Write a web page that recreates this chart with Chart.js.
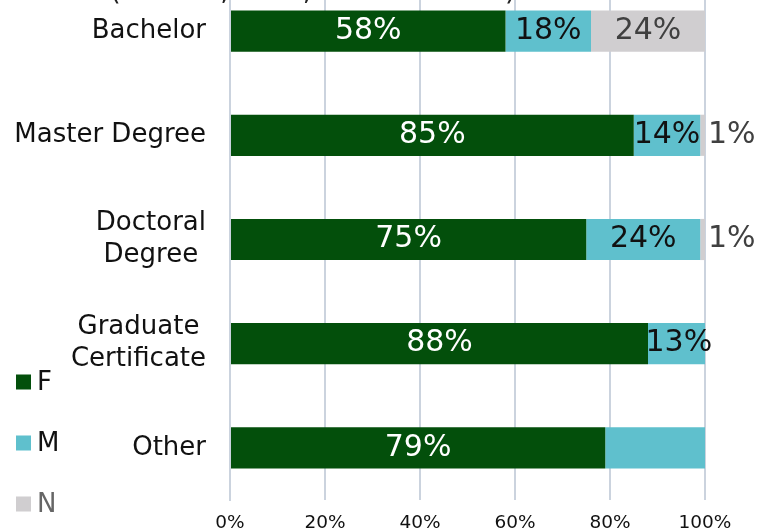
<!DOCTYPE html>
<html>
<head>
<meta charset="utf-8">
<script src="https://cdn.jsdelivr.net/npm/chart.js@4/dist/chart.umd.min.js"></script>
<style>
  html, body { margin: 0; padding: 0; background: #fff; overflow: hidden; width: 764px; height: 531px; }
  #wrap { position: absolute; left: 0; top: -40px; width: 764px; height: 571px; }
</style>
</head>
<body>
<div id="wrap"><canvas id="c" width="764" height="571"></canvas></div>
<script>
// Gender split by programme level (percent of enrolments)
const titleText = 'Gender (Female, Male, Not disclosed)';
const categories = [['Bachelor'], ['Master Degree'], ['Doctoral', 'Degree'], ['Graduate', 'Certificate'], ['Other']];
const seriesNames = ['F', 'M', 'N'];
const femaleShare = [58, 85, 75, 88, 79];
const maleShare = [18, 14, 24, 13, 21];
const notDisclosedShare = [24, 1, 1, 0, 0];
const maleLabelShown = [true, true, true, true, false];
const tickValues = [0, 20, 40, 60, 80, 100];

const FONT = "'DejaVu Sans', Verdana, sans-serif";
const COLORS = ['#034f0b', '#5fc0cd', '#d0ced0'];
const LABEL_COLORS = ['#ffffff', '#111111', '#404040'];
const LEGEND_TEXT = ['#111111', '#111111', '#666666'];

const seriesValues = [femaleShare, maleShare, notDisclosedShare];
const shownFlags = [femaleShare.map(() => true), maleLabelShown, notDisclosedShare.map(() => true)];

// Title, category labels (block right-aligned, lines centred), segment labels, legend
const decorations = {
  id: 'decorations',
  afterDraw(chart) {
    const ctx = chart.ctx;
    const yScale = chart.scales.y;
    ctx.save();

    // title (sits mostly above the visible area)
    ctx.font = '27.5px ' + FONT;
    ctx.fillStyle = '#222';
    ctx.textAlign = 'left';
    ctx.textBaseline = 'alphabetic';
    ctx.fillText(titleText, 0, 40);

    // category labels
    ctx.font = '26px ' + FONT;
    ctx.fillStyle = '#111';
    ctx.textBaseline = 'middle';
    ctx.textAlign = 'center';
    const rightEdge = 206;
    const lineH = 32;
    categories.forEach((lines, i) => {
      const cy = yScale.getPixelForValue(i);
      const maxW = Math.max(...lines.map(l => ctx.measureText(l).width));
      const cx = rightEdge - maxW / 2;
      const y0 = cy - (lines.length - 1) * lineH / 2;
      lines.forEach((l, k) => ctx.fillText(l, cx, y0 + k * lineH));
    });

    // segment labels
    ctx.font = '30px ' + FONT;
    chart.data.datasets.forEach((ds, di) => {
      const meta = chart.getDatasetMeta(di);
      meta.data.forEach((bar, i) => {
        const v = ds.data[i];
        if (!v || !shownFlags[di][i]) return;
        const x0 = Math.min(bar.base, bar.x), x1 = Math.max(bar.base, bar.x);
        const w = x1 - x0;
        ctx.fillStyle = LABEL_COLORS[di];
        const txt = v + '%';
        if (w < 30) {
          ctx.textAlign = 'left';
          ctx.fillText(txt, chart.chartArea.right + 3, bar.y);
        } else {
          ctx.textAlign = 'center';
          ctx.fillText(txt, (x0 + x1) / 2, bar.y);
        }
      });
    });

    // legend
    ctx.font = '26px ' + FONT;
    ctx.textAlign = 'left';
    const legendY = [422, 483, 544];
    seriesNames.forEach((name, i) => {
      ctx.fillStyle = COLORS[i];
      ctx.fillRect(16, legendY[i] - 7.5, 15, 15);
      ctx.fillStyle = LEGEND_TEXT[i];
      ctx.fillText(name, 37, legendY[i] + 1);
    });
    ctx.restore();
  }
};

new Chart(document.getElementById('c'), {
  type: 'bar',
  data: {
    labels: categories,
    datasets: seriesNames.map((name, i) => ({
      label: name,
      data: seriesValues[i],
      backgroundColor: COLORS[i],
      borderWidth: 0,
      barPercentage: 0.395,
      categoryPercentage: 1
    }))
  },
  options: {
    indexAxis: 'y',
    responsive: false,
    animation: false,
    layout: { padding: { left: 0, right: 59, top: 19, bottom: 0 } },
    plugins: { legend: { display: false }, tooltip: { enabled: false }, title: { display: false } },
    scales: {
      x: {
        stacked: true,
        min: 0,
        max: 100,
        afterBuildTicks(scale) { scale.ticks = tickValues.map(v => ({ value: v })); },
        afterFit(scale) { scale.height = 31; },
        grid: { color: '#cbd3de', lineWidth: 2, drawTicks: false },
        border: { display: false },
        ticks: {
          padding: 12,
          color: '#111',
          font: { family: FONT, size: 18.5 },
          callback: v => v + '%'
        }
      },
      y: {
        stacked: true,
        afterFit(scale) { scale.width = 230; },
        grid: { display: false, drawTicks: false },
        border: { display: true, color: '#cbd3de', width: 2 },
        ticks: { display: false }
      }
    }
  },
  plugins: [decorations]
});
</script>
</body>
</html>
